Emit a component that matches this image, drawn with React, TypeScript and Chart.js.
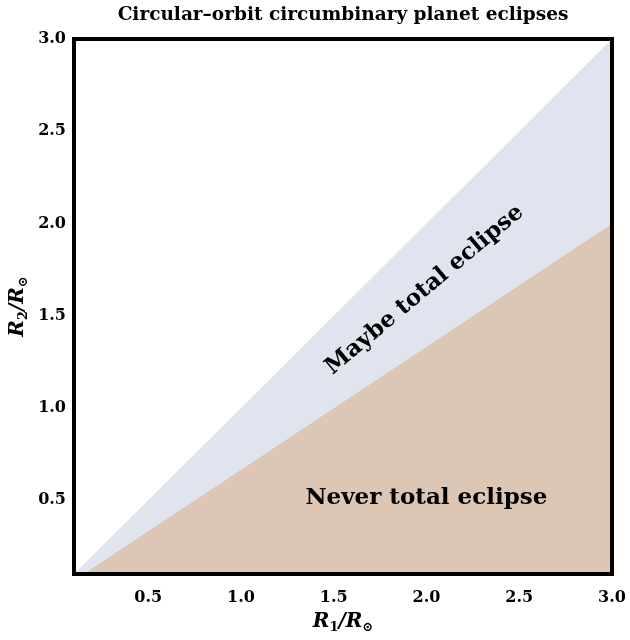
import { useEffect, useRef } from "react";
import { Chart, registerables } from "chart.js";
Chart.register(...registerables);

const TITLE = "Circular–orbit circumbinary planet eclipses";
const upperX = [0.1, 3.0];
const upperY = [0.1, 3.0];
const lowerX = [0.1, 3.0];
const lowerY = [0.067, 2.0];
const xTicks = [0.5, 1.0, 1.5, 2.0, 2.5, 3.0];
const yTicks = [0.5, 1.0, 1.5, 2.0, 2.5, 3.0];
const AXIS_MIN = 0.1;
const AXIS_MAX = 3.0;
const noteTexts = ["Maybe total eclipse", "Never total eclipse"];
const noteX = [1.99, 2.0];
const noteY = [1.64, 0.51];
const noteAngle = [-40, 0];

const BLUE = "rgb(223,228,238)";
const BROWN = "rgb(222,198,180)";
const FAMILY = "'DejaVu Serif', serif";

function drawParts(ctx: CanvasRenderingContext2D, parts: { t: string; sub: boolean }[], cx: number, cy: number, rot: number) {
  const mainFont = `italic bold 20px ${FAMILY}`;
  const subFont = `bold 13px ${FAMILY}`;
  let total = 0;
  const widths = parts.map((p) => {
    ctx.font = p.sub ? subFont : mainFont;
    const w = ctx.measureText(p.t).width;
    total += w;
    return w;
  });
  ctx.save();
  ctx.translate(cx, cy);
  ctx.rotate(rot);
  ctx.fillStyle = "#000";
  ctx.textBaseline = "alphabetic";
  ctx.textAlign = "left";
  let x = -total / 2;
  parts.forEach((p, i) => {
    ctx.font = p.sub ? subFont : mainFont;
    ctx.fillText(p.t, x, p.sub ? 11 : 7);
    x += widths[i];
  });
  ctx.restore();
}

const decor = {
  id: "decor",
  afterDatasetsDraw(chart: any) {
    const { ctx, scales } = chart;
    noteTexts.forEach((t, i) => {
      const px = scales.x.getPixelForValue(noteX[i]);
      const py = scales.y.getPixelForValue(noteY[i]);
      ctx.save();
      ctx.translate(px, py);
      ctx.rotate((noteAngle[i] * Math.PI) / 180);
      ctx.font = `bold 23px ${FAMILY}`;
      ctx.fillStyle = "#000";
      ctx.textAlign = "center";
      ctx.textBaseline = "middle";
      ctx.fillText(t, 0, 0);
      ctx.restore();
    });
  },
  afterDraw(chart: any) {
    const { ctx, chartArea } = chart;
    ctx.save();
    ctx.strokeStyle = "#000";
    ctx.lineWidth = 4;
    ctx.strokeRect(chartArea.left, chartArea.top, chartArea.right - chartArea.left, chartArea.bottom - chartArea.top);
    ctx.restore();
    const cx = (chartArea.left + chartArea.right) / 2;
    ctx.save();
    ctx.font = `bold 18.5px ${FAMILY}`;
    ctx.fillStyle = "#000";
    ctx.textAlign = "center";
    ctx.textBaseline = "middle";
    ctx.fillText(TITLE, cx, 15);
    ctx.restore();
    drawParts(ctx, [{ t: "R", sub: false }, { t: "1", sub: true }, { t: "/R", sub: false }, { t: "⊙", sub: true }], cx, 620, 0);
    drawParts(ctx, [{ t: "R", sub: false }, { t: "2", sub: true }, { t: "/R", sub: false }, { t: "⊙", sub: true }], 16, (chartArea.top + chartArea.bottom) / 2, -Math.PI / 2);
  },
};

export default function App() {
  const ref = useRef<HTMLCanvasElement>(null);
  useEffect(() => {
    document.body.style.margin = "0";
    const tickFont = { family: FAMILY, size: 16, weight: "bold" as const };
    const chart = new Chart(ref.current!, {
      type: "line",
      data: {
        datasets: [
          {
            data: upperX.map((x, i) => ({ x, y: upperY[i] })),
            fill: "+1",
            backgroundColor: BLUE,
            borderWidth: 0,
            pointRadius: 0,
          },
          {
            data: lowerX.map((x, i) => ({ x, y: lowerY[i] })),
            fill: "start",
            backgroundColor: BROWN,
            borderWidth: 0,
            pointRadius: 0,
          },
        ],
      },
      options: {
        responsive: false,
        animation: false,
        layout: { padding: { top: 39, right: 18, left: 0, bottom: 0 } },
        plugins: { legend: { display: false }, tooltip: { enabled: false }, title: { display: false } },
        scales: {
          x: {
            type: "linear",
            min: AXIS_MIN,
            max: AXIS_MAX,
            grid: { display: false, drawTicks: false },
            border: { display: false },
            ticks: { font: tickFont, color: "#000", padding: 14, maxRotation: 0, callback: (v: any) => Number(v).toFixed(1) },
            afterBuildTicks: (s: any) => {
              s.ticks = xTicks.map((v) => ({ value: v }));
            },
            afterFit: (s: any) => {
              s.height = 66;
              s.paddingLeft = 0;
              s.paddingRight = 0;
            },
          },
          y: {
            type: "linear",
            min: AXIS_MIN,
            max: AXIS_MAX,
            grid: { display: false, drawTicks: false },
            border: { display: false },
            ticks: { font: tickFont, color: "#000", padding: 8, callback: (v: any) => Number(v).toFixed(1) },
            afterBuildTicks: (s: any) => {
              s.ticks = yTicks.map((v) => ({ value: v }));
            },
            afterFit: (s: any) => {
              s.width = 74;
              s.paddingTop = 0;
              s.paddingBottom = 0;
            },
          },
        },
      },
      plugins: [decor],
    });
    return () => chart.destroy();
  }, []);
  return (
    <div style={{ width: 630, height: 640 }}>
      <canvas ref={ref} width={630} height={640} style={{ display: "block", width: 630, height: 640 }} />
    </div>
  );
}
